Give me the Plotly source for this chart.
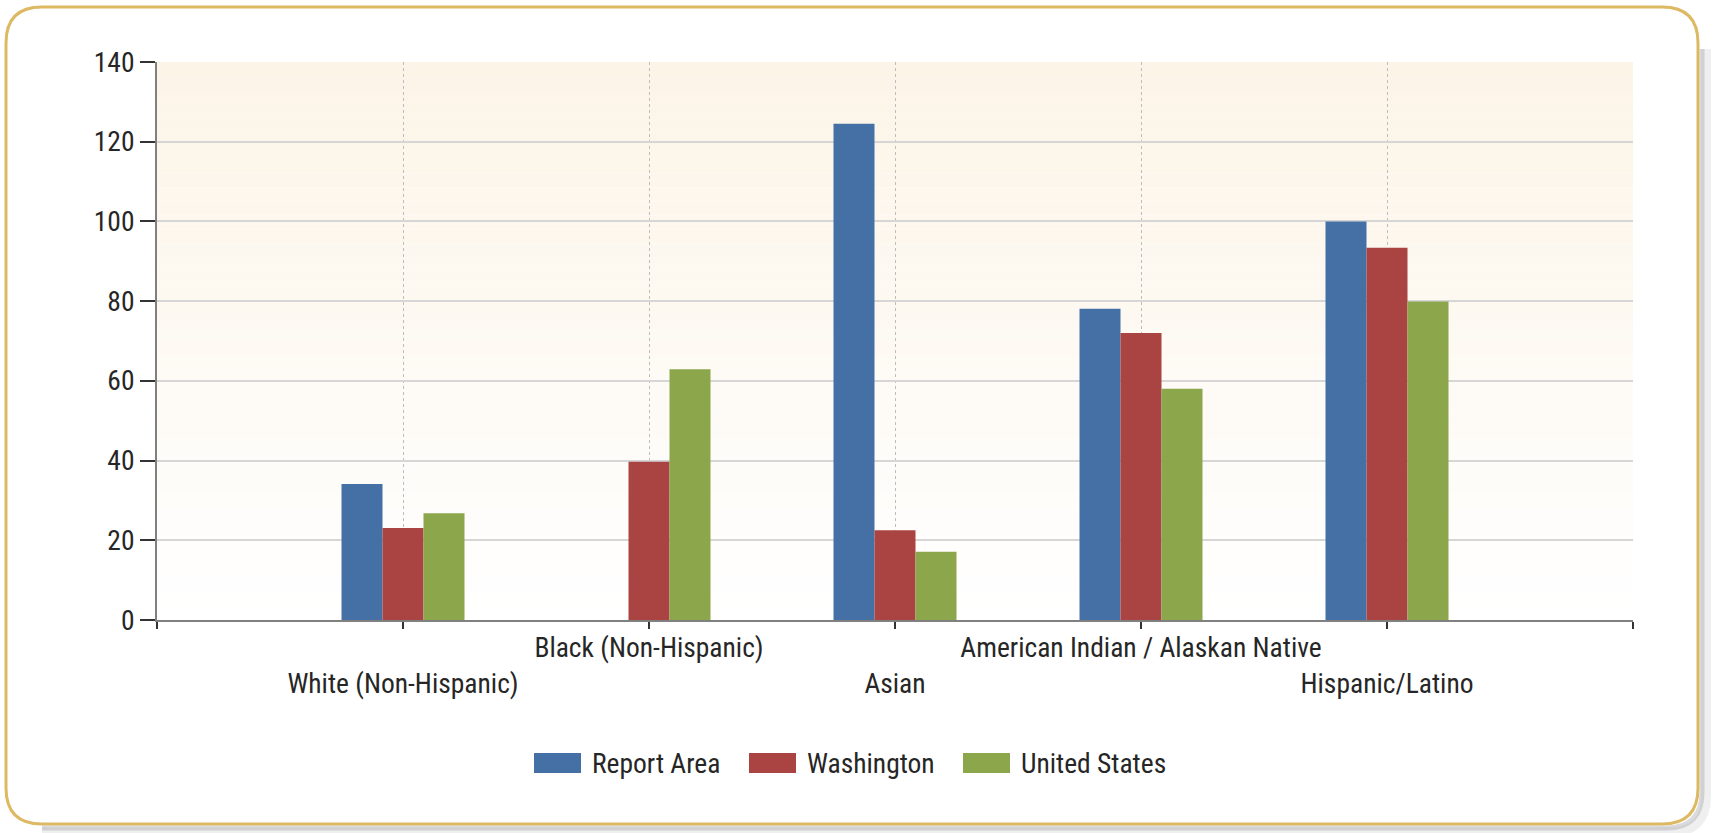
import plotly.graph_objects as go

# ---------------- data ----------------
categories = [
    "White (Non-Hispanic)",
    "Black (Non-Hispanic)",
    "Asian",
    "American Indian / Alaskan Native",
    "Hispanic/Latino",
]
label_rows = [2, 1, 2, 1, 2]          # staggered label rows
series_names = ["Report Area", "Washington", "United States"]
report_area = [34.1, None, 124.5, 78.1, 100.0]
washington = [23.1, 39.7, 22.5, 72.0, 93.4]
united_states = [26.8, 62.9, 17.1, 58.0, 79.9]
y_ticks = [0, 20, 40, 60, 80, 100, 120, 140]

# ---------------- style ----------------
W, H = 1715, 833
PL, PR, PT, PB = 157, 1633, 62, 620   # plot area box (pixels)
FONT = "Liberation Sans Narrow, Arial Narrow, Roboto Condensed, DejaVu Sans Condensed, sans-serif"
FS = 27.5
TXT = "#262626"
colors = ["#4470A6", "#A94442", "#8BA64B"]
legend_swatch_x = [534, 749, 963]      # left edge of each legend swatch (px)
legend_y = 763
SW_W, SW_H = 47, 20


def px(x):
    return (x - PL) / (PR - PL)


def py(y):
    return (PB - y) / (PB - PT)


xs = list(range(len(categories)))
fig = go.Figure()
for name, vals, col in zip(series_names, [report_area, washington, united_states], colors):
    fig.add_trace(go.Bar(x=xs, y=vals, name=name, marker=dict(color=col, line=dict(width=0))))

tickvals = [-1] + xs + [len(categories)]
ticktext = [""] + [("<br>" if r == 2 else "") + c for c, r in zip(categories, label_rows)] + [""]

shapes = []
annotations = []
# plot background gradient (cream at top fading to white)
n = 40
top = (252, 244, 231)
for i in range(n):
    t = i / (n - 1)
    c = tuple(round(top[k] + (255 - top[k]) * t) for k in range(3))
    shapes.append(dict(type="rect", xref="x domain", yref="y domain",
                       x0=0, x1=1, y0=1 - (i + 1) / n, y1=1 - i / n,
                       fillcolor="rgb(%d,%d,%d)" % c, line=dict(width=0), layer="below"))

# rounded frame with shadow
x0, x1, y0, y1, r = 6, 1698, 7, 824, 36


def P(x, y):
    return "%.5f,%.5f" % (px(x), py(y))


for off, w, op in [(8, 10, 0.15), (4, 5, 0.35)]:
    d = ("M " + P(x1 + off, y0 + r + 6) + " L " + P(x1 + off, y1 - r + off) +
         " Q " + P(x1 + off, y1 + off) + " " + P(x1 - r + off, y1 + off) +
         " L " + P(x0 + r, y1 + off))
    shapes.append(dict(type="path", xref="paper", yref="paper", path=d,
                       line=dict(color="#9a9aa2", width=w), opacity=op, layer="below"))

frame = ("M " + P(x0 + r, y0) + " L " + P(x1 - r, y0) + " Q " + P(x1, y0) + " " + P(x1, y0 + r) +
         " L " + P(x1, y1 - r) + " Q " + P(x1, y1) + " " + P(x1 - r, y1) +
         " L " + P(x0 + r, y1) + " Q " + P(x0, y1) + " " + P(x0, y1 - r) +
         " L " + P(x0, y0 + r) + " Q " + P(x0, y0) + " " + P(x0 + r, y0) + " Z")
shapes.append(dict(type="path", xref="paper", yref="paper", path=frame,
                   line=dict(color="#DDB963", width=3), layer="below"))

# legend (wide swatches like the original)
for name, col, sx in zip(series_names, colors, legend_swatch_x):
    shapes.append(dict(type="rect", xref="paper", yref="paper",
                       x0=px(sx), x1=px(sx + SW_W), y0=py(legend_y + SW_H / 2), y1=py(legend_y - SW_H / 2),
                       fillcolor=col, line=dict(width=0)))
    annotations.append(dict(xref="paper", yref="paper", x=px(sx + SW_W + 9), y=py(legend_y),
                            xanchor="left", yanchor="middle", text=name, showarrow=False,
                            font=dict(family=FONT, size=FS, color=TXT)))

fig.update_layout(
    width=W, height=H,
    margin=dict(l=PL, r=W - PR, t=PT, b=H - PB, autoexpand=False),
    paper_bgcolor="white",
    plot_bgcolor="white",
    barmode="group",
    bargap=0.5,
    bargroupgap=0,
    font=dict(family=FONT, size=FS, color=TXT),
    shapes=shapes,
    annotations=annotations,
    showlegend=False,
    xaxis=dict(range=[-1, len(categories)], tickmode="array", tickvals=tickvals, ticktext=ticktext,
               tickangle=0, showgrid=True, gridcolor="#bdbdbd", griddash="dot", gridwidth=1,
               showline=True, linecolor="#808080", linewidth=2, ticks="outside", ticklen=7,
               tickwidth=2, tickcolor="#333333", zeroline=False, fixedrange=True,
               ticklabelstandoff=-5,
               tickfont=dict(family=FONT, size=FS, color=TXT)),
    yaxis=dict(range=[0, 140], tickmode="array", tickvals=y_ticks, showgrid=True,
               gridcolor="#d6d6d6", gridwidth=2, showline=True, linecolor="#808080", linewidth=2,
               ticks="outside", ticklen=15, tickwidth=2, tickcolor="#333333", zeroline=False,
               fixedrange=True, tickfont=dict(family=FONT, size=FS, color=TXT)),
)

fig.write_html("out.html", config={"displayModeBar": False},
               post_script="document.body.style.margin='0';")
